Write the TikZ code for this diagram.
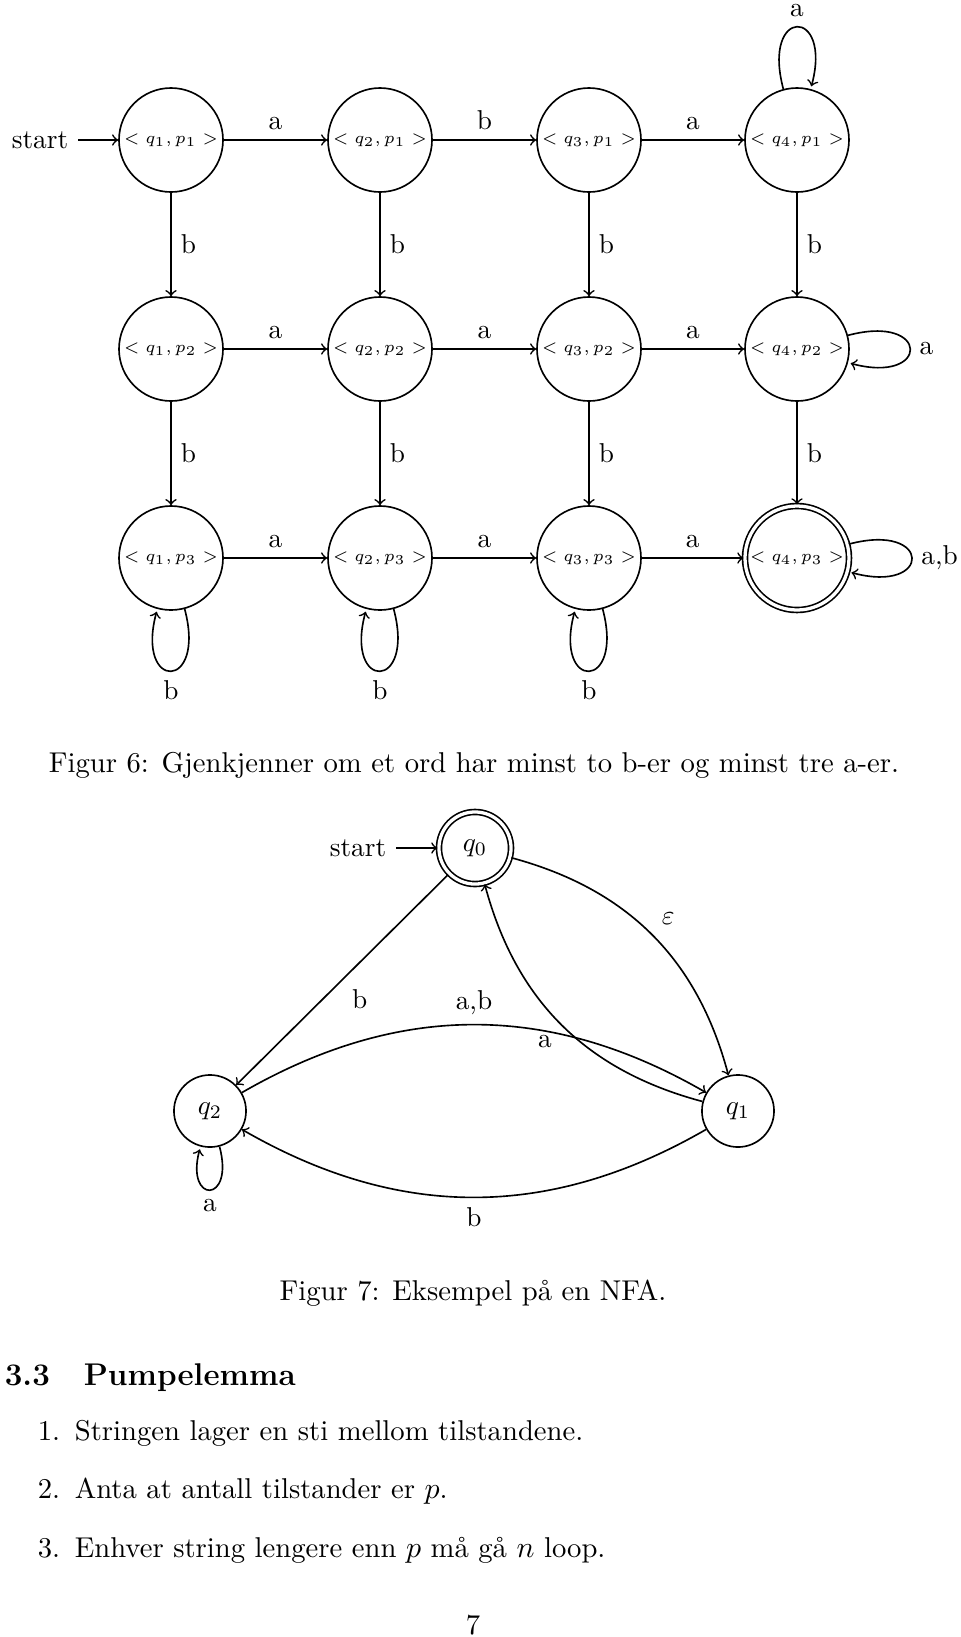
\documentclass[tikz,border=0pt]{standalone}
\usepackage{fontspec}
\usetikzlibrary{automata,positioning}

\tikzset{
  pairstate/.style={state,minimum size=38.1pt,inner sep=0pt,font=\fontsize{6.3}{7.5}\selectfont},
  nfastate/.style={state,minimum size=26.4pt,inner sep=0pt},
  final/.style={accepting,double distance=1.2pt},
  pagetext/.style={inner sep=0pt,anchor=base,font=\fontsize{10.5}{12.6}\selectfont},
  headtext/.style={inner sep=0pt,anchor=base west,font=\fontsize{11.5}{14}\selectfont\bfseries}
}

\begin{document}
\begin{tikzpicture}[x=0.3663pt,y=-0.3663pt,->,semithick,auto]
\useasboundingbox (0,0) rectangle (960,1637);

% Figur 6
\node [pairstate] (q1p1) at (171,140) {$< q_1, p_1 >$};
\node [pairstate] (q2p1) at (380,140) {$< q_2, p_1 >$};
\node [pairstate] (q3p1) at (589,140) {$< q_3, p_1 >$};
\node [pairstate] (q4p1) at (797,140) {$< q_4, p_1 >$};
\node [pairstate] (q1p2) at (171,349) {$< q_1, p_2 >$};
\node [pairstate] (q2p2) at (380,349) {$< q_2, p_2 >$};
\node [pairstate] (q3p2) at (589,349) {$< q_3, p_2 >$};
\node [pairstate] (q4p2) at (797,349) {$< q_4, p_2 >$};
\node [pairstate] (q1p3) at (171,558) {$< q_1, p_3 >$};
\node [pairstate] (q2p3) at (380,558) {$< q_2, p_3 >$};
\node [pairstate] (q3p3) at (589,558) {$< q_3, p_3 >$};
\node [pairstate,final] (q4p3) at (797,558) {$< q_4, p_3 >$};
\node (start6) at (40,140) {start};

\path (start6) edge (q1p1)
      (q1p1) edge node {a} (q2p1)
             edge node {b} (q1p2)
      (q2p1) edge node {b} (q3p1)
             edge node {b} (q2p2)
      (q3p1) edge node {a} (q4p1)
             edge node {b} (q3p2)
      (q4p1) edge [loop above] node {a} ()
             edge node {b} (q4p2)
      (q1p2) edge node {a} (q2p2)
             edge node {b} (q1p3)
      (q2p2) edge node {a} (q3p2)
             edge node {b} (q2p3)
      (q3p2) edge node {a} (q4p2)
             edge node {b} (q3p3)
      (q4p2) edge [loop right] node {a} ()
             edge node {b} (q4p3)
      (q1p3) edge node {a} (q2p3)
             edge [loop below] node {b} ()
      (q2p3) edge node {a} (q3p3)
             edge [loop below] node {b} ()
      (q3p3) edge node {a} (q4p3)
             edge [loop below] node {b} ()
      (q4p3) edge [loop right] node {a,b} ();

\node [pagetext] (cap6) at (474,772) {Figur 6: Gjenkjenner om et ord har minst to b-er og minst tre a-er.};

% Figur 7
\node [nfastate,final] (q0) at (475,848) {$q_0$};
\node [nfastate] (q1) at (738,1111) {$q_1$};
\node [nfastate] (q2) at (210,1111) {$q_2$};
\node (start7) at (358,848) {start};

\path (start7) edge (q0)
      (q0) edge node {b} (q2)
           edge [bend left] node {$\varepsilon$} (q1)
      (q1) edge [bend left] node {a} (q0)
           edge [bend left] node {b} (q2)
      (q2) edge [bend left] node {a,b} (q1)
           edge [loop below] node {a} ();

\node [pagetext] (cap7) at (473,1300) {Figur 7: Eksempel på en NFA.};

% tekst
\node [headtext] (secnum) at (4,1385) {3.3};
\node [headtext] (sectitle) at (83,1385) {Pumpelemma};
\node [pagetext,anchor=base east] (num1) at (61,1440) {1.};
\node [pagetext,anchor=base west] (item1) at (74,1440) {Stringen lager en sti mellom tilstandene.};
\node [pagetext,anchor=base east] (num2) at (61,1498) {2.};
\node [pagetext,anchor=base west] (item2) at (74,1498) {Anta at antall tilstander er $p$.};
\node [pagetext,anchor=base east] (num3) at (61,1557) {3.};
\node [pagetext,anchor=base west] (item3) at (74,1557) {Enhver string lengere enn $p$ må gå $n$ loop.};
\node [pagetext] (pagenum) at (473,1634) {7};
\end{tikzpicture}
\end{document}
